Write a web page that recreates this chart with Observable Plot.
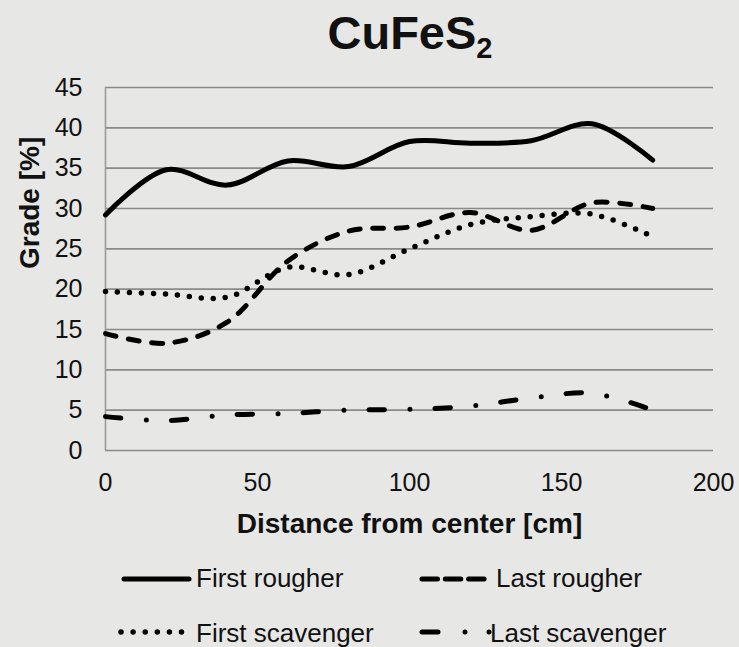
<!DOCTYPE html>
<html>
<head>
<meta charset="utf-8">
<script src="https://cdn.jsdelivr.net/npm/d3@7"></script>
<script src="https://cdn.jsdelivr.net/npm/@observablehq/plot@0.6"></script>
<style>
  html, body { margin: 0; padding: 0; background: #e7e7e5; }
  #wrap { position: relative; width: 739px; height: 647px; overflow: hidden; background: #e7e7e5;
          font-family: "Liberation Sans", Arial, sans-serif; color: #111; }
  #title { position: absolute; left: 80px; width: 660px; top: 9px; text-align: center;
           font-weight: bold; font-size: 47px; line-height: 47px; }
  #title sub { font-size: 29px; vertical-align: baseline; position: relative; top: 9px; line-height: 0; }
  #chart { position: absolute; left: 0; top: 0; }
  .lg-text { position: absolute; font-size: 26px; line-height: 26px; white-space: nowrap; }
  #lgsvg { position: absolute; left: 0; top: 0; }
</style>
</head>
<body>
<div id="wrap">
  <div id="chart"></div>
  <div id="title">CuFeS<sub>2</sub></div>
</div>
<script>
const distance = [0, 20, 40, 60, 80, 100, 120, 140, 160, 180];
const firstRougher = [29.2, 34.8, 32.9, 35.9, 35.2, 38.3, 38.1, 38.4, 40.5, 36.0];
const lastRougher = [14.5, 13.3, 15.9, 23.5, 27.2, 27.7, 29.5, 27.3, 30.7, 30.0];
const firstScavenger = [19.7, 19.4, 19.0, 22.7, 21.8, 25.0, 28.0, 29.0, 29.3, 26.5];
const lastScavenger = [4.2, 3.7, 4.4, 4.6, 5.0, 5.1, 5.5, 6.5, 7.1, 5.0];
const xTicks = [0, 50, 100, 150, 200];
const yTicks = [0, 5, 10, 15, 20, 25, 30, 35, 40, 45];
const seriesNames = ["First rougher", "Last rougher", "First scavenger", "Last scavenger"];
const seriesValues = [firstRougher, lastRougher, firstScavenger, lastScavenger];
const dashes = ["none", "11 12.5", "0 12", "15.5 25.5 0 25"];
const widths = [5, 5, 5.5, 5];

const series = seriesNames.map((name, i) => ({
  name, dash: dashes[i], width: widths[i],
  data: distance.map((d, j) => ({x: d, y: seriesValues[i][j]}))
}));

const plot = Plot.plot({
  width: 739,
  height: 550,
  marginLeft: 105,
  marginRight: 26,
  marginTop: 87,
  marginBottom: 100,
  style: {background: "transparent", fontFamily: "Liberation Sans, Arial, sans-serif", fontSize: "25px", color: "#111"},
  x: {domain: [0, 200], ticks: xTicks, tickSize: 0, tickPadding: 23, label: null},
  y: {domain: [0, 45], ticks: yTicks, tickSize: 0, tickPadding: 23, label: null},
  marks: [
    Plot.gridY(yTicks, {stroke: "#8a8a8a", strokeOpacity: 1, strokeWidth: 1.6}),
    Plot.ruleX([0], {stroke: "#9a9a9a", strokeWidth: 1.6}),
    ...series.map(s => Plot.line(s.data, {
      x: "x", y: "y", curve: "catmull-rom", stroke: "#000", strokeWidth: s.width,
      strokeLinecap: "round", strokeLinejoin: "round",
      strokeDasharray: s.dash === "none" ? undefined : s.dash
    })),
    Plot.text(["Distance from center [cm]"], {frameAnchor: "bottom", lineAnchor: "bottom", dy: 82,
      fontWeight: "bold", fontSize: 28, fill: "#111"}),
    Plot.text(["Grade [%]"], {frameAnchor: "left", rotate: -90, dx: -75,
      fontWeight: "bold", fontSize: 28, fill: "#111"})
  ]
});
document.getElementById("chart").appendChild(plot);

// Legend
const legend = [
  {name: seriesNames[0], x1: 124, x2: 189, y: 579, tx: 196, ty: 565, dash: "none", w: 5},
  {name: seriesNames[1], x1: 422, x2: 487, y: 579, tx: 496, ty: 565, dash: "15.5 7.8", w: 5},
  {name: seriesNames[2], x1: 121, x2: 182, y: 632, tx: 196, ty: 620, dash: "0 12.1", w: 5.5},
  {name: seriesNames[3], x1: 422, x2: 490, y: 632, tx: 490, ty: 620, dash: "16 27 0 24 0 100", w: 5}
];
const wrap = document.getElementById("wrap");
const ns = "http://www.w3.org/2000/svg";
const lsvg = document.createElementNS(ns, "svg");
lsvg.setAttribute("id", "lgsvg");
lsvg.setAttribute("width", 739);
lsvg.setAttribute("height", 647);
for (const l of legend) {
  const ln = document.createElementNS(ns, "line");
  ln.setAttribute("x1", l.x1); ln.setAttribute("x2", l.x2);
  ln.setAttribute("y1", l.y); ln.setAttribute("y2", l.y);
  ln.setAttribute("stroke", "#000");
  ln.setAttribute("stroke-width", l.w);
  ln.setAttribute("stroke-linecap", "round");
  if (l.dash !== "none") ln.setAttribute("stroke-dasharray", l.dash);
  lsvg.appendChild(ln);
  const t = document.createElement("div");
  t.className = "lg-text";
  t.style.left = l.tx + "px";
  t.style.top = l.ty + "px";
  t.textContent = l.name;
  wrap.appendChild(t);
}
wrap.appendChild(lsvg);
</script>
</body>
</html>
